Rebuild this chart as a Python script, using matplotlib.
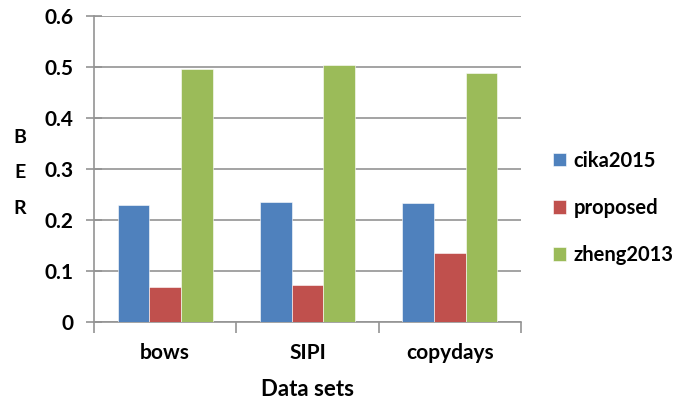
import matplotlib
matplotlib.use("Agg")
import matplotlib.pyplot as plt
import numpy as np

categories = ["bows", "SIPI", "copydays"]
series_names = ["cika2015", "proposed", "zheng2013"]
cika2015 = [0.229, 0.235, 0.233]
proposed = [0.069, 0.072, 0.135]
zheng2013 = [0.497, 0.503, 0.488]
yticks = [0, 0.1, 0.2, 0.3, 0.4, 0.5, 0.6]
ytick_labels = ["0", "0.1", "0.2", "0.3", "0.4", "0.5", "0.6"]

colors = ["#4F81BD", "#C0504D", "#9BBB59"]
W, H = 683, 403
fig = plt.figure(figsize=(W/100, H/100), dpi=100)
ax = fig.add_axes([94/W, 1-322/H, (521-94)/W, (322-16)/H])

font = dict(family=["Lato", "DejaVu Sans"], weight="bold")
x = np.arange(len(categories))
bw = 2/9
for i, (vals, name) in enumerate(zip([cika2015, proposed, zheng2013], series_names)):
    ax.bar(x + (i-1)*bw, vals, width=bw, color=colors[i], label=name,
           edgecolor="#ffffff", linewidth=0.4, zorder=3)

ax.set_xlim(-0.5, 2.5)
ax.set_ylim(0, 0.6)
ax.set_yticks(yticks)
ax.set_yticklabels(ytick_labels, fontsize=15, **font)
ax.yaxis.grid(True, color="#939393", linewidth=1.2, zorder=0)
ax.tick_params(axis="y", direction="inout", length=12, width=1.2, color="#939393", pad=9)
ax.set_xticks(x)
ax.set_xticklabels(categories, fontsize=15, **font)
ax.set_xticks([-0.5, 0.5, 1.5, 2.5], minor=True)
ax.tick_params(axis="x", which="major", length=0, pad=15)
ax.tick_params(axis="x", which="minor", direction="out", length=8, width=1.2, color="#939393")
for s in ["top", "right"]:
    ax.spines[s].set_visible(False)
for s in ["left", "bottom"]:
    ax.spines[s].set_color("#939393")
    ax.spines[s].set_linewidth(1.2)

fig.text(20/W, 1-173/H, "B\nE\nR", ha="center", va="center", fontsize=14,
         linespacing=2.3, **font)
fig.text((94+521)/2/W, 1-389/H, "Data sets", ha="center", va="center", fontsize=16, **font)

leg = fig.legend(loc="center left", bbox_to_anchor=(535/W, 1-208/H), frameon=False,
                 handlelength=0.65, handleheight=0.65, handletextpad=0.35,
                 labelspacing=1.35, prop=dict(family="Lato", weight="bold", size=14.5))

fig.savefig("out.png", dpi=100)
